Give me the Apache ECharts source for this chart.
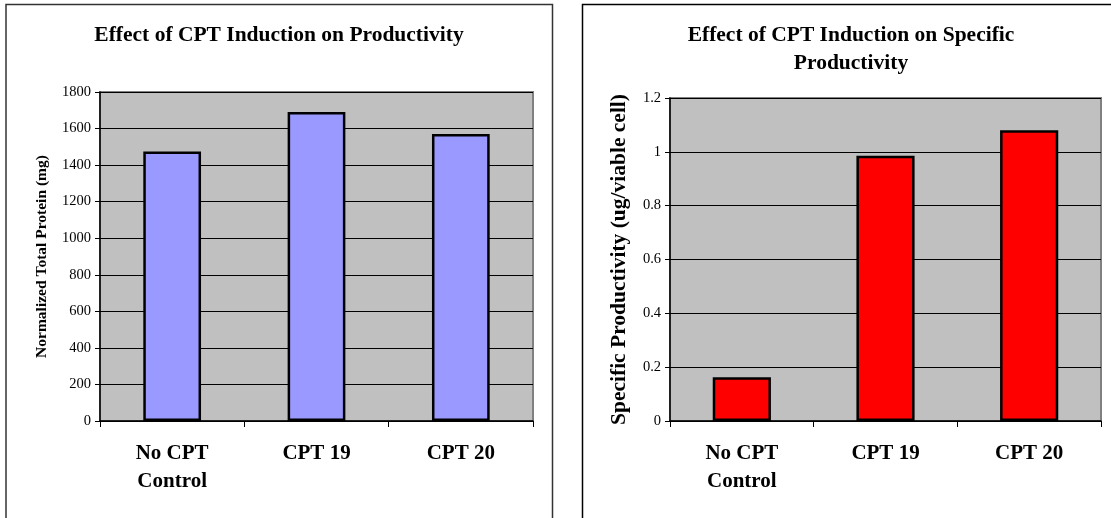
<!DOCTYPE html>
<html>
<head>
<meta charset="utf-8">
<script src="https://cdn.jsdelivr.net/npm/echarts@6/dist/echarts.min.js"></script>
<style>
  html, body { margin: 0; padding: 0; background: #fff; }
  #chart { width: 1111px; height: 518px; }
</style>
</head>
<body>
<div id="chart"></div>
<script>
// Categories shared by both panels
const categories = ['No CPT\nControl', 'CPT 19', 'CPT 20'];

// Left panel: normalized total protein (mg)
const totalProtein = [1475, 1690, 1570];
const proteinTicks = { min: 0, max: 1800, interval: 200 };

// Right panel: specific productivity (ug/viable cell)
const specificProd = [0.163, 0.985, 1.08];
const specificTicks = { min: 0, max: 1.2, interval: 0.2 };

const SERIF = '"Liberation Serif", "Times New Roman", serif';

function xAxisFor(gridIndex) {
  return {
    type: 'category',
    gridIndex: gridIndex,
    data: categories,
    axisLine: { lineStyle: { color: '#000', width: 1.5 } },
    axisTick: { show: true, length: 6, lineStyle: { color: '#000', width: 1 } },
    axisLabel: {
      color: '#000', fontFamily: SERIF, fontWeight: 'bold',
      fontSize: 21, lineHeight: 28, margin: 19
    },
    splitLine: { show: false }
  };
}

function yAxisFor(gridIndex, ticks, name, nameSize, nameGap) {
  return {
    type: 'value',
    gridIndex: gridIndex,
    min: ticks.min, max: ticks.max, interval: ticks.interval,
    name: name,
    nameLocation: 'middle',
    nameRotate: 90,
    nameGap: nameGap,
    nameTextStyle: { color: '#000', fontFamily: SERIF, fontWeight: 'bold', fontSize: nameSize },
    axisLine: { show: true, lineStyle: { color: '#000', width: 1.5 } },
    axisTick: { show: true, length: 5, lineStyle: { color: '#000', width: 1 } },
    axisLabel: {
      color: '#000', fontFamily: SERIF, fontSize: 14.5, margin: 9,
      formatter: function (v) { return String(+v.toFixed(2)); }
    },
    splitLine: { show: true, lineStyle: { color: '#000', width: 1 } }
  };
}

const chart = echarts.init(document.getElementById('chart'), null, { renderer: 'canvas' });

chart.setOption({
  animation: false,
  backgroundColor: '#fff',
  graphic: [
    // panel frames
    { type: 'rect', shape: { x: 6, y: 4.5, width: 546.5, height: 530 },
      style: { fill: null, stroke: '#333', lineWidth: 1.5 }, z: -1 },
    { type: 'rect', shape: { x: 582.5, y: 4.5, width: 540, height: 530 },
      style: { fill: null, stroke: '#000', lineWidth: 1.5 }, z: -1 }
  ],
  title: [
    {
      text: 'Effect of CPT Induction on Productivity',
      left: 274, top: 19, textAlign: 'center',
      textStyle: { color: '#000', fontFamily: SERIF, fontWeight: 'bold', fontSize: 21.5 }
    },
    {
      text: 'Effect of CPT Induction on Specific\nProductivity',
      left: 846, top: 16, textAlign: 'center',
      textStyle: { color: '#000', fontFamily: SERIF, fontWeight: 'bold', fontSize: 21.5, lineHeight: 28 }
    }
  ],
  grid: [
    { left: 100, top: 92, width: 433, height: 329, show: true,
      backgroundColor: '#C0C0C0', borderColor: '#808080', borderWidth: 2 },
    { left: 670, top: 98, width: 431, height: 323, show: true,
      backgroundColor: '#C0C0C0', borderColor: '#808080', borderWidth: 2 }
  ],
  xAxis: [xAxisFor(0), xAxisFor(1)],
  yAxis: [
    yAxisFor(0, proteinTicks, 'Normalized Total Protein (mg)', 15.5, 50),
    yAxisFor(1, specificTicks, 'Specific Productivity (ug/viable cell)', 21.5, 40)
  ],
  series: [
    {
      type: 'bar', xAxisIndex: 0, yAxisIndex: 0, data: totalProtein,
      barWidth: '40%',
      itemStyle: { color: '#9999FF', borderColor: '#000', borderWidth: 2.5 }
    },
    {
      type: 'bar', xAxisIndex: 1, yAxisIndex: 1, data: specificProd,
      barWidth: '40.5%',
      itemStyle: { color: '#FF0000', borderColor: '#000', borderWidth: 2.5 }
    }
  ]
});
</script>
</body>
</html>
